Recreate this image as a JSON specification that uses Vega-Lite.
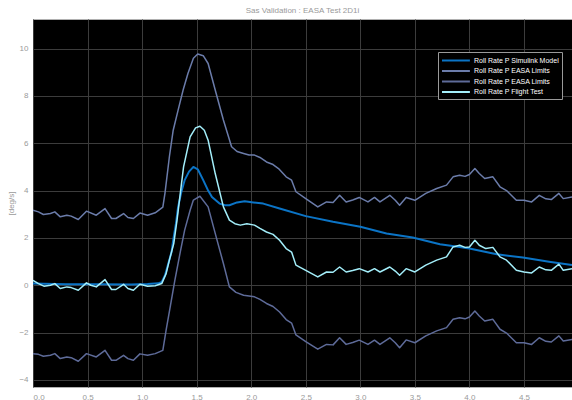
{
  "$schema": "https://vega.github.io/schema/vega-lite/v6.json",
  "width": 539,
  "height": 368,
  "autosize": {"type": "none"},
  "padding": {"left": 33, "top": 19, "right": 0, "bottom": 13},
  "background": "white",
  "title": {"text": "Sas Validation : EASA Test 2D1i", "fontSize": 8, "color": "#9a9a9a", "fontWeight": "normal", "font": "Liberation Sans", "offset": 4, "anchor": "middle"},
  "config": {
    "view": {"fill": "black", "stroke": "#b0b0b0", "strokeWidth": 1},
    "font": "Liberation Sans",
    "axis": {"gridColor": "#3c3c3c", "gridWidth": 1, "labelColor": "#9a9a9a", "labelFontSize": 8, "ticks": false, "domain": false, "titleColor": "#9a9a9a", "titleFontSize": 8, "titleFontWeight": "normal"}
  },
  "data": {"values": [
    {"t":0.00,"v":0.07,"s":"model"},{"t":0.30,"v":0.04,"s":"model"},{"t":0.60,"v":0.04,"s":"model"},{"t":0.90,"v":0.03,"s":"model"},{"t":1.05,"v":0.05,"s":"model"},{"t":1.15,"v":0.08,"s":"model"},{"t":1.18,"v":0.14,"s":"model"},{"t":1.21,"v":0.42,"s":"model"},{"t":1.24,"v":0.92,"s":"model"},{"t":1.27,"v":1.41,"s":"model"},{"t":1.285,"v":1.9,"s":"model"},{"t":1.31,"v":2.6,"s":"model"},{"t":1.33,"v":3.31,"s":"model"},{"t":1.36,"v":3.95,"s":"model"},{"t":1.39,"v":4.44,"s":"model"},{"t":1.43,"v":4.8,"s":"model"},{"t":1.47,"v":5.0,"s":"model"},{"t":1.51,"v":4.9,"s":"model"},{"t":1.56,"v":4.44,"s":"model"},{"t":1.60,"v":4.05,"s":"model"},{"t":1.64,"v":3.73,"s":"model"},{"t":1.71,"v":3.45,"s":"model"},{"t":1.76,"v":3.38,"s":"model"},{"t":1.80,"v":3.38,"s":"model"},{"t":1.87,"v":3.5,"s":"model"},{"t":1.94,"v":3.55,"s":"model"},{"t":2.02,"v":3.5,"s":"model"},{"t":2.11,"v":3.45,"s":"model"},{"t":2.26,"v":3.24,"s":"model"},{"t":2.50,"v":2.92,"s":"model"},{"t":2.75,"v":2.68,"s":"model"},{"t":3.00,"v":2.47,"s":"model"},{"t":3.24,"v":2.19,"s":"model"},{"t":3.48,"v":2.02,"s":"model"},{"t":3.73,"v":1.73,"s":"model"},{"t":3.91,"v":1.62,"s":"model"},{"t":4.00,"v":1.55,"s":"model"},{"t":4.25,"v":1.31,"s":"model"},{"t":4.49,"v":1.17,"s":"model"},{"t":4.73,"v":0.99,"s":"model"},{"t":4.94,"v":0.85,"s":"model"},

    {"t":0.00,"v":3.17,"s":"upper"},{"t":0.05,"v":3.10,"s":"upper"},{"t":0.095,"v":2.99,"s":"upper"},{"t":0.16,"v":3.03,"s":"upper"},{"t":0.20,"v":3.10,"s":"upper"},{"t":0.25,"v":2.89,"s":"upper"},{"t":0.31,"v":2.96,"s":"upper"},{"t":0.35,"v":2.92,"s":"upper"},{"t":0.415,"v":2.78,"s":"upper"},{"t":0.49,"v":3.13,"s":"upper"},{"t":0.58,"v":2.96,"s":"upper"},{"t":0.66,"v":3.24,"s":"upper"},{"t":0.72,"v":2.82,"s":"upper"},{"t":0.76,"v":2.82,"s":"upper"},{"t":0.83,"v":3.03,"s":"upper"},{"t":0.87,"v":2.86,"s":"upper"},{"t":0.92,"v":2.82,"s":"upper"},{"t":0.98,"v":3.05,"s":"upper"},{"t":1.05,"v":2.96,"s":"upper"},{"t":1.12,"v":3.06,"s":"upper"},{"t":1.19,"v":3.3,"s":"upper"},{"t":1.21,"v":3.9,"s":"upper"},{"t":1.25,"v":5.43,"s":"upper"},{"t":1.285,"v":6.55,"s":"upper"},{"t":1.33,"v":7.4,"s":"upper"},{"t":1.376,"v":8.25,"s":"upper"},{"t":1.42,"v":8.95,"s":"upper"},{"t":1.47,"v":9.59,"s":"upper"},{"t":1.51,"v":9.77,"s":"upper"},{"t":1.56,"v":9.7,"s":"upper"},{"t":1.605,"v":9.37,"s":"upper"},{"t":1.67,"v":8.25,"s":"upper"},{"t":1.745,"v":6.98,"s":"upper"},{"t":1.82,"v":5.85,"s":"upper"},{"t":1.87,"v":5.65,"s":"upper"},{"t":1.93,"v":5.57,"s":"upper"},{"t":1.98,"v":5.5,"s":"upper"},{"t":2.03,"v":5.5,"s":"upper"},{"t":2.08,"v":5.4,"s":"upper"},{"t":2.14,"v":5.21,"s":"upper"},{"t":2.20,"v":5.1,"s":"upper"},{"t":2.25,"v":4.93,"s":"upper"},{"t":2.32,"v":4.58,"s":"upper"},{"t":2.37,"v":4.44,"s":"upper"},{"t":2.41,"v":3.95,"s":"upper"},{"t":2.50,"v":3.66,"s":"upper"},{"t":2.61,"v":3.31,"s":"upper"},{"t":2.69,"v":3.52,"s":"upper"},{"t":2.75,"v":3.5,"s":"upper"},{"t":2.81,"v":3.80,"s":"upper"},{"t":2.87,"v":3.52,"s":"upper"},{"t":2.93,"v":3.6,"s":"upper"},{"t":2.99,"v":3.71,"s":"upper"},{"t":3.07,"v":3.52,"s":"upper"},{"t":3.13,"v":3.71,"s":"upper"},{"t":3.18,"v":3.52,"s":"upper"},{"t":3.27,"v":3.80,"s":"upper"},{"t":3.32,"v":3.59,"s":"upper"},{"t":3.36,"v":3.38,"s":"upper"},{"t":3.42,"v":3.71,"s":"upper"},{"t":3.50,"v":3.59,"s":"upper"},{"t":3.60,"v":3.88,"s":"upper"},{"t":3.70,"v":4.09,"s":"upper"},{"t":3.79,"v":4.23,"s":"upper"},{"t":3.85,"v":4.58,"s":"upper"},{"t":3.91,"v":4.65,"s":"upper"},{"t":3.96,"v":4.6,"s":"upper"},{"t":4.00,"v":4.68,"s":"upper"},{"t":4.05,"v":4.93,"s":"upper"},{"t":4.09,"v":4.72,"s":"upper"},{"t":4.14,"v":4.51,"s":"upper"},{"t":4.215,"v":4.58,"s":"upper"},{"t":4.28,"v":4.16,"s":"upper"},{"t":4.34,"v":4.00,"s":"upper"},{"t":4.43,"v":3.59,"s":"upper"},{"t":4.50,"v":3.59,"s":"upper"},{"t":4.57,"v":3.52,"s":"upper"},{"t":4.64,"v":3.80,"s":"upper"},{"t":4.70,"v":3.65,"s":"upper"},{"t":4.75,"v":3.62,"s":"upper"},{"t":4.82,"v":3.88,"s":"upper"},{"t":4.86,"v":3.66,"s":"upper"},{"t":4.94,"v":3.73,"s":"upper"},

    {"t":0.00,"v":-2.89,"s":"lower"},{"t":0.05,"v":-2.92,"s":"lower"},{"t":0.095,"v":-3.0,"s":"lower"},{"t":0.16,"v":-2.96,"s":"lower"},{"t":0.20,"v":-2.89,"s":"lower"},{"t":0.25,"v":-3.1,"s":"lower"},{"t":0.31,"v":-3.03,"s":"lower"},{"t":0.35,"v":-3.06,"s":"lower"},{"t":0.415,"v":-3.21,"s":"lower"},{"t":0.49,"v":-2.89,"s":"lower"},{"t":0.58,"v":-3.03,"s":"lower"},{"t":0.66,"v":-2.75,"s":"lower"},{"t":0.72,"v":-3.17,"s":"lower"},{"t":0.76,"v":-3.17,"s":"lower"},{"t":0.83,"v":-2.96,"s":"lower"},{"t":0.87,"v":-3.1,"s":"lower"},{"t":0.92,"v":-3.17,"s":"lower"},{"t":0.98,"v":-2.9,"s":"lower"},{"t":1.05,"v":-2.96,"s":"lower"},{"t":1.12,"v":-2.89,"s":"lower"},{"t":1.19,"v":-2.75,"s":"lower"},{"t":1.22,"v":-1.9,"s":"lower"},{"t":1.26,"v":-0.85,"s":"lower"},{"t":1.30,"v":0.21,"s":"lower"},{"t":1.35,"v":1.41,"s":"lower"},{"t":1.39,"v":2.33,"s":"lower"},{"t":1.44,"v":3.17,"s":"lower"},{"t":1.47,"v":3.6,"s":"lower"},{"t":1.53,"v":3.76,"s":"lower"},{"t":1.605,"v":3.31,"s":"lower"},{"t":1.67,"v":2.19,"s":"lower"},{"t":1.745,"v":0.92,"s":"lower"},{"t":1.80,"v":-0.07,"s":"lower"},{"t":1.86,"v":-0.3,"s":"lower"},{"t":1.93,"v":-0.42,"s":"lower"},{"t":2.03,"v":-0.49,"s":"lower"},{"t":2.08,"v":-0.6,"s":"lower"},{"t":2.14,"v":-0.77,"s":"lower"},{"t":2.20,"v":-0.9,"s":"lower"},{"t":2.26,"v":-1.13,"s":"lower"},{"t":2.32,"v":-1.45,"s":"lower"},{"t":2.37,"v":-1.6,"s":"lower"},{"t":2.41,"v":-2.1,"s":"lower"},{"t":2.50,"v":-2.38,"s":"lower"},{"t":2.61,"v":-2.70,"s":"lower"},{"t":2.69,"v":-2.5,"s":"lower"},{"t":2.75,"v":-2.52,"s":"lower"},{"t":2.81,"v":-2.22,"s":"lower"},{"t":2.87,"v":-2.5,"s":"lower"},{"t":2.93,"v":-2.42,"s":"lower"},{"t":2.99,"v":-2.32,"s":"lower"},{"t":3.07,"v":-2.5,"s":"lower"},{"t":3.13,"v":-2.32,"s":"lower"},{"t":3.18,"v":-2.5,"s":"lower"},{"t":3.27,"v":-2.22,"s":"lower"},{"t":3.32,"v":-2.43,"s":"lower"},{"t":3.36,"v":-2.64,"s":"lower"},{"t":3.42,"v":-2.31,"s":"lower"},{"t":3.50,"v":-2.43,"s":"lower"},{"t":3.60,"v":-2.14,"s":"lower"},{"t":3.70,"v":-1.93,"s":"lower"},{"t":3.79,"v":-1.79,"s":"lower"},{"t":3.85,"v":-1.44,"s":"lower"},{"t":3.91,"v":-1.37,"s":"lower"},{"t":3.96,"v":-1.42,"s":"lower"},{"t":4.00,"v":-1.34,"s":"lower"},{"t":4.05,"v":-1.09,"s":"lower"},{"t":4.09,"v":-1.3,"s":"lower"},{"t":4.14,"v":-1.51,"s":"lower"},{"t":4.215,"v":-1.44,"s":"lower"},{"t":4.28,"v":-1.86,"s":"lower"},{"t":4.34,"v":-2.02,"s":"lower"},{"t":4.43,"v":-2.43,"s":"lower"},{"t":4.50,"v":-2.43,"s":"lower"},{"t":4.57,"v":-2.5,"s":"lower"},{"t":4.64,"v":-2.22,"s":"lower"},{"t":4.70,"v":-2.37,"s":"lower"},{"t":4.75,"v":-2.4,"s":"lower"},{"t":4.82,"v":-2.14,"s":"lower"},{"t":4.86,"v":-2.36,"s":"lower"},{"t":4.94,"v":-2.29,"s":"lower"},

    {"t":0.00,"v":0.21,"s":"flight"},{"t":0.05,"v":0.07,"s":"flight"},{"t":0.10,"v":-0.04,"s":"flight"},{"t":0.16,"v":0.00,"s":"flight"},{"t":0.20,"v":0.07,"s":"flight"},{"t":0.25,"v":-0.14,"s":"flight"},{"t":0.31,"v":-0.07,"s":"flight"},{"t":0.35,"v":-0.10,"s":"flight"},{"t":0.415,"v":-0.21,"s":"flight"},{"t":0.49,"v":0.10,"s":"flight"},{"t":0.53,"v":0.0,"s":"flight"},{"t":0.58,"v":-0.07,"s":"flight"},{"t":0.66,"v":0.24,"s":"flight"},{"t":0.72,"v":-0.18,"s":"flight"},{"t":0.76,"v":-0.18,"s":"flight"},{"t":0.83,"v":0.04,"s":"flight"},{"t":0.87,"v":-0.14,"s":"flight"},{"t":0.92,"v":-0.21,"s":"flight"},{"t":0.98,"v":0.04,"s":"flight"},{"t":1.05,"v":-0.04,"s":"flight"},{"t":1.12,"v":-0.02,"s":"flight"},{"t":1.18,"v":0.07,"s":"flight"},{"t":1.22,"v":0.49,"s":"flight"},{"t":1.25,"v":1.06,"s":"flight"},{"t":1.29,"v":1.76,"s":"flight"},{"t":1.32,"v":2.75,"s":"flight"},{"t":1.35,"v":3.88,"s":"flight"},{"t":1.38,"v":5.0,"s":"flight"},{"t":1.44,"v":6.27,"s":"flight"},{"t":1.49,"v":6.65,"s":"flight"},{"t":1.53,"v":6.72,"s":"flight"},{"t":1.57,"v":6.55,"s":"flight"},{"t":1.605,"v":6.13,"s":"flight"},{"t":1.67,"v":4.72,"s":"flight"},{"t":1.745,"v":3.31,"s":"flight"},{"t":1.80,"v":2.75,"s":"flight"},{"t":1.85,"v":2.6,"s":"flight"},{"t":1.90,"v":2.54,"s":"flight"},{"t":1.96,"v":2.6,"s":"flight"},{"t":2.03,"v":2.54,"s":"flight"},{"t":2.08,"v":2.4,"s":"flight"},{"t":2.14,"v":2.25,"s":"flight"},{"t":2.20,"v":2.15,"s":"flight"},{"t":2.26,"v":1.9,"s":"flight"},{"t":2.32,"v":1.55,"s":"flight"},{"t":2.37,"v":1.4,"s":"flight"},{"t":2.41,"v":0.85,"s":"flight"},{"t":2.50,"v":0.63,"s":"flight"},{"t":2.61,"v":0.35,"s":"flight"},{"t":2.69,"v":0.56,"s":"flight"},{"t":2.75,"v":0.55,"s":"flight"},{"t":2.81,"v":0.77,"s":"flight"},{"t":2.87,"v":0.56,"s":"flight"},{"t":2.93,"v":0.62,"s":"flight"},{"t":2.99,"v":0.70,"s":"flight"},{"t":3.07,"v":0.56,"s":"flight"},{"t":3.13,"v":0.70,"s":"flight"},{"t":3.18,"v":0.56,"s":"flight"},{"t":3.27,"v":0.77,"s":"flight"},{"t":3.32,"v":0.6,"s":"flight"},{"t":3.36,"v":0.42,"s":"flight"},{"t":3.42,"v":0.70,"s":"flight"},{"t":3.50,"v":0.56,"s":"flight"},{"t":3.60,"v":0.85,"s":"flight"},{"t":3.70,"v":1.06,"s":"flight"},{"t":3.79,"v":1.20,"s":"flight"},{"t":3.85,"v":1.62,"s":"flight"},{"t":3.91,"v":1.69,"s":"flight"},{"t":3.96,"v":1.6,"s":"flight"},{"t":4.00,"v":1.62,"s":"flight"},{"t":4.05,"v":1.90,"s":"flight"},{"t":4.09,"v":1.69,"s":"flight"},{"t":4.15,"v":1.55,"s":"flight"},{"t":4.215,"v":1.60,"s":"flight"},{"t":4.28,"v":1.20,"s":"flight"},{"t":4.34,"v":1.06,"s":"flight"},{"t":4.43,"v":0.63,"s":"flight"},{"t":4.50,"v":0.56,"s":"flight"},{"t":4.57,"v":0.52,"s":"flight"},{"t":4.64,"v":0.77,"s":"flight"},{"t":4.70,"v":0.65,"s":"flight"},{"t":4.75,"v":0.63,"s":"flight"},{"t":4.82,"v":0.89,"s":"flight"},{"t":4.86,"v":0.63,"s":"flight"},{"t":4.94,"v":0.70,"s":"flight"}
  ]},
  "mark": {"type": "line", "clip": true, "strokeJoin": "round"},
  "encoding": {
    "x": {"field": "t", "type": "quantitative", "scale": {"domain": [0, 4.94], "nice": false, "zero": false}, "axis": {"values": [0,0.5,1,1.5,2,2.5,3,3.5,4,4.5], "title": null, "labelPadding": 6}},
    "y": {"field": "v", "type": "quantitative", "scale": {"domain": [-4.3, 11.25], "nice": false}, "axis": {"values": [-4,-2,0,2,4,6,8,10], "title": "[deg/s]", "labelPadding": 5, "titlePadding": 3}},
    "color": {"field": "s", "type": "nominal", "scale": {"domain": ["model","upper","lower","flight"], "range": ["#0b74c6","#6b7caa","#5e6b99","#a3eefa"]},
      "legend": {"title": null, "orient": "none", "legendX": 405, "legendY": 33, "fillColor": "black", "strokeColor": "#9a9a9a", "padding": 3, "labelColor": "white", "labelFontSize": 7, "symbolType": "M-1,0H5.2", "symbolSize": 81, "symbolStrokeWidth": 2, "rowPadding": 0.5, "labelOffset": 22,
        "labelExpr": "datum.label == 'model' ? 'Roll Rate P Simulink Model' : datum.label == 'flight' ? 'Roll Rate P Flight Test' : 'Roll Rate P EASA Limits'"}},
    "strokeWidth": {"condition": {"test": "datum.s == 'model'", "value": 2}, "value": 1.5},
    "order": {"field": "t"}
  }
}
